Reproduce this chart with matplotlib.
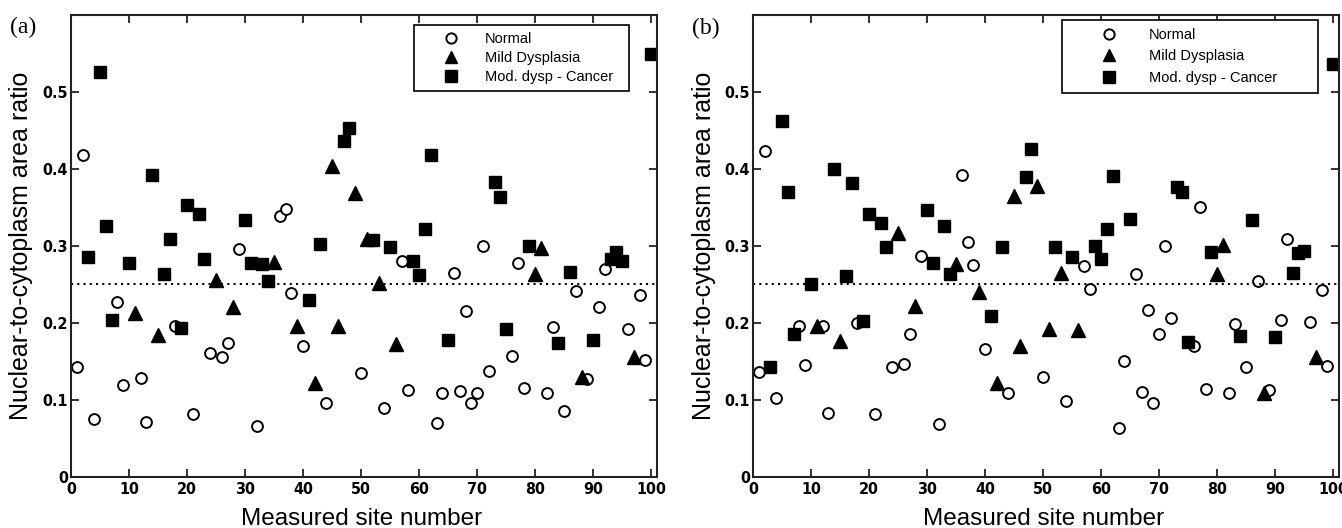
import numpy as np
import matplotlib
matplotlib.use("Agg")
import matplotlib.pyplot as plt

# site numbers per category (same sites in both panels)
normal_sites = [1, 2, 4, 8, 9, 12, 13, 18, 21, 24, 26, 27, 29, 32, 36, 37, 38, 40, 44, 50,
                54, 57, 58, 63, 64, 66, 67, 68, 69, 70, 71, 72, 76, 77, 78, 82, 83, 85, 87, 89,
                91, 92, 96, 98, 99]
mild_sites = [11, 15, 25, 28, 35, 39, 42, 45, 46, 49, 51, 53, 56, 80, 81, 88, 97]
severe_sites = [3, 5, 6, 7, 10, 14, 16, 17, 19, 20, 22, 23, 30, 31, 33, 34, 41, 43, 47, 48,
                52, 55, 59, 60, 61, 62, 65, 73, 74, 75, 79, 84, 86, 90, 93, 94, 95, 100]

# panel (a) ratios
normal_a = [0.143, 0.418, 0.075, 0.227, 0.119, 0.128, 0.071, 0.195, 0.082, 0.161, 0.155, 0.173,
            0.296, 0.066, 0.338, 0.348, 0.239, 0.170, 0.096, 0.134, 0.089, 0.280, 0.113, 0.070,
            0.109, 0.264, 0.111, 0.215, 0.096, 0.109, 0.299, 0.137, 0.157, 0.278, 0.115, 0.109,
            0.194, 0.085, 0.241, 0.127, 0.220, 0.270, 0.192, 0.236, 0.152]
mild_a = [0.212, 0.184, 0.255, 0.220, 0.279, 0.196, 0.121, 0.403, 0.196, 0.368, 0.308, 0.251,
          0.172, 0.263, 0.297, 0.129, 0.156]
severe_a = [0.285, 0.525, 0.325, 0.204, 0.277, 0.392, 0.263, 0.309, 0.193, 0.353, 0.341, 0.282,
            0.333, 0.277, 0.276, 0.254, 0.229, 0.302, 0.436, 0.453, 0.307, 0.298, 0.280, 0.262,
            0.322, 0.417, 0.178, 0.382, 0.363, 0.192, 0.300, 0.174, 0.266, 0.178, 0.282, 0.292,
            0.280, 0.549]

# panel (b) ratios
normal_b = [0.136, 0.423, 0.102, 0.195, 0.145, 0.195, 0.083, 0.199, 0.082, 0.143, 0.146, 0.185,
            0.287, 0.068, 0.392, 0.305, 0.275, 0.166, 0.109, 0.130, 0.098, 0.273, 0.244, 0.063,
            0.150, 0.263, 0.110, 0.216, 0.096, 0.185, 0.299, 0.206, 0.170, 0.350, 0.114, 0.109,
            0.198, 0.142, 0.254, 0.112, 0.204, 0.308, 0.201, 0.243, 0.144]
mild_b = [0.195, 0.176, 0.316, 0.222, 0.276, 0.240, 0.121, 0.365, 0.170, 0.378, 0.192, 0.264,
          0.190, 0.263, 0.301, 0.109, 0.156]
severe_b = [0.143, 0.462, 0.370, 0.185, 0.250, 0.399, 0.261, 0.381, 0.202, 0.341, 0.329, 0.298,
            0.346, 0.277, 0.325, 0.263, 0.208, 0.298, 0.389, 0.425, 0.298, 0.285, 0.299, 0.282,
            0.322, 0.390, 0.334, 0.376, 0.370, 0.175, 0.292, 0.183, 0.333, 0.181, 0.264, 0.290,
            0.293, 0.536]

threshold = 0.25
x_ticks = list(range(0, 101, 10))
y_ticks = [0, 0.1, 0.2, 0.3, 0.4, 0.5]
y_tick_labels = ["0", "0.1", "0.2", "0.3", "0.4", "0.5"]

TICK_FONT = ["Liberation Sans Narrow", "DejaVu Sans"]
LABEL_FONT = ["Liberation Sans", "DejaVu Sans"]

W, H = 1342, 528


def draw_panel(ax, normal_vals, mild_vals, severe_vals, legend_box, hl, htp, lsp, bpad):
    ax.plot(normal_sites, normal_vals, "o", ls="none", ms=7.8, mfc="white", mec="black",
            mew=1.4, label="Normal")
    ax.plot(mild_sites, mild_vals, "^", ls="none", ms=9.5, color="black", label="Mild Dysplasia")
    ax.plot(severe_sites, severe_vals, "s", ls="none", ms=9.2, color="black",
            label="Mod. dysp - Cancer")
    ax.axhline(threshold, color="black", ls=(0, (1, 2)), lw=1.5)

    ax.set_xlim(0, 101)
    ax.set_ylim(0, 0.6)
    ax.set_xticks(x_ticks, labels=[str(t) for t in x_ticks], fontfamily=TICK_FONT,
                  fontweight="bold", fontstretch="condensed", fontsize=11.5)
    ax.set_yticks(y_ticks, labels=y_tick_labels, fontfamily=TICK_FONT,
                  fontweight="bold", fontstretch="condensed", fontsize=11.5)
    ax.tick_params(direction="in", top=True, right=True, length=6, width=1.3, color="#222222")
    ax.tick_params(axis="x", pad=3.5)
    ax.tick_params(axis="y", pad=2)
    for sp in ax.spines.values():
        sp.set_linewidth(1.5)
        sp.set_color("#222222")

    x0, top, w = legend_box
    leg = ax.legend(loc="upper left", bbox_to_anchor=(x0, top - 0.3, w, 0.3), mode="expand",
                    borderaxespad=0, fancybox=False, edgecolor="black", framealpha=1,
                    handlelength=hl, handletextpad=htp, borderpad=bpad, labelspacing=lsp,
                    markerscale=0.95, prop={"family": LABEL_FONT, "size": 10.5})
    leg.get_frame().set_linewidth(1.2)


fig = plt.figure(figsize=(W / 100, H / 100), dpi=100)
ax_a = fig.add_axes([71 / W, 51.3 / H, 586 / W, 462.2 / H])
ax_b = fig.add_axes([753 / W, 51.3 / H, 586 / W, 462.2 / H])

draw_panel(ax_a, normal_a, mild_a, severe_a, (0.585, 0.977, 0.367), 4.2, 0.2, 0.36, 0.45)
draw_panel(ax_b, normal_b, mild_b, severe_b, (0.527, 0.988, 0.438), 5.4, 0.0, 0.5, 0.55)

for xl, xc in [(21, 362), (704, 1044)]:
    fig.text(xl / W, 1 - 245.5 / H, "Nuclear-to-cytoplasm area ratio", rotation=90,
             ha="center", va="center", fontsize=18, family=LABEL_FONT)
    fig.text(xc / W, 3 / H, "Measured site number", ha="center", va="baseline",
             fontsize=17.5, family=LABEL_FONT)

fig.text(10 / W, 1 - 27.5 / H, "(a)", ha="left", va="center", fontsize=17,
         family=["Liberation Serif", "DejaVu Serif"])
fig.text(692 / W, 1 - 28 / H, "(b)", ha="left", va="center", fontsize=17,
         family=["Liberation Serif", "DejaVu Serif"])

fig.savefig("out.png", dpi=100)
